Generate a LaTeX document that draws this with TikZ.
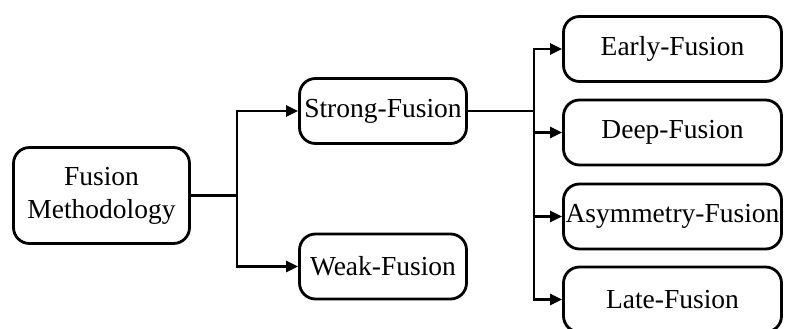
\documentclass[tikz,border=0pt]{standalone}
\usepackage{fontspec}
\setmainfont{Liberation Serif}
\usetikzlibrary{arrows.meta}
\begin{document}
\begin{tikzpicture}[x=1pt,y=-1pt,
  box/.style={draw=black, line width=2.8pt, rounded corners=16pt, fill=white,
    inner sep=0pt, align=center, font=\fontsize{27.5}{33}\selectfont},
  leftbox/.style={box, minimum width=176pt, minimum height=96pt},
  midbox/.style={box, minimum width=167pt, minimum height=65pt},
  rightbox/.style={box, minimum width=218pt, minimum height=65pt},
  conn/.style={line width=2.8pt, line join=miter, -{Triangle[length=12pt,width=11pt]}}]
\useasboundingbox (0,0) rectangle (785,329);
\node[leftbox] (fm) at (101.5,195.5) {Fusion\\Methodology};
\node[midbox] (sf) at (383,111) {Strong-Fusion};
\node[midbox] (wf) at (383,266.5) {Weak-Fusion};
\node[rightbox] (ef) at (672.5,49) {Early-Fusion};
\node[rightbox] (df) at (672.5,132.5) {Deep-Fusion};
\node[rightbox] (af) at (672.5,216.5) {Asymmetry-Fusion};
\node[rightbox] (lf) at (672.5,299.5) {Late-Fusion};
\draw[conn] (fm.east) -- ++(46,0) |- (sf.west);
\draw[conn] (fm.east) -- ++(46,0) |- (wf.west);
\draw[conn] (sf.east) -- ++(66,0) |- (ef.west);
\draw[conn] (sf.east) -- ++(66,0) |- (df.west);
\draw[conn] (sf.east) -- ++(66,0) |- (af.west);
\draw[conn] (sf.east) -- ++(66,0) |- (lf.west);
\end{tikzpicture}
\end{document}
